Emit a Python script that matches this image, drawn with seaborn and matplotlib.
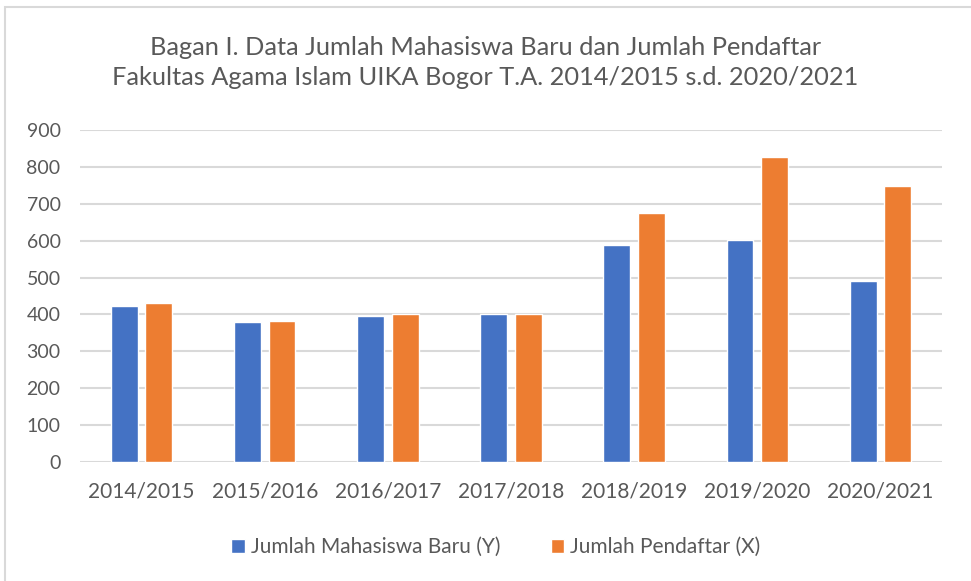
import matplotlib
matplotlib.use("Agg")
import matplotlib.pyplot as plt
import seaborn as sns
import pandas as pd
from matplotlib.patches import Rectangle

# Data
tahun = ['2014/2015', '2015/2016', '2016/2017', '2017/2018', '2018/2019', '2019/2020', '2020/2021']
mahasiswa_baru = [424, 379, 395, 400, 588, 601, 490]
pendaftar = [430, 383, 400, 402, 676, 826, 748]
seri = ['Jumlah Mahasiswa Baru (Y)', 'Jumlah Pendaftar (X)']
warna = ['#4472C4', '#ED7D31']

df = pd.DataFrame({
    'Tahun': tahun * 2,
    'Jumlah': mahasiswa_baru + pendaftar,
    'Seri': [seri[0]] * len(tahun) + [seri[1]] * len(tahun),
})

sns.set_style('white')
plt.rcParams['font.family'] = ['Lato', 'DejaVu Sans']

fig = plt.figure(figsize=(9.71, 5.81), dpi=100)
ax = fig.add_axes([80 / 971, 1 - 462 / 581, 862 / 971, 332 / 581])

sns.barplot(data=df, x='Tahun', y='Jumlah', hue='Seri', palette=warna,
            width=0.56, gap=0.22, ax=ax, saturation=1)

ax.set_ylim(0, 900)
ax.set_yticks(range(0, 901, 100))
ax.set_xlim(-0.5, len(tahun) - 0.5)
ax.yaxis.grid(True, color='#D9D9D9', linewidth=1.5)
ax.set_axisbelow(True)
for s in ax.spines.values():
    s.set_visible(False)
ax.tick_params(axis='both', length=0, colors='#595959')
ax.tick_params(axis='x', pad=14, labelsize=15)
ax.tick_params(axis='y', pad=14, labelsize=14)
ax.set_xlabel('')
ax.set_ylabel('')

fig.suptitle('Bagan I. Data Jumlah Mahasiswa Baru dan Jumlah Pendaftar\n'
             'Fakultas Agama Islam UIKA Bogor T.A. 2014/2015 s.d. 2020/2021',
             y=1 - 36 / 581, fontsize=18.3, color='#595959', linespacing=1.35)

ax.legend(loc='center', bbox_to_anchor=((496 - 80) / 862, (1 - 547 / 581 - (1 - 462 / 581)) / (332 / 581)),
          ncol=2, frameon=False, fontsize=15, handlelength=0.65, handleheight=0.65,
          handletextpad=0.3, columnspacing=2.4, labelcolor='#595959')

# chart border
fig.patches.append(Rectangle((5 / 971, -0.1), 1.2, 1 - 7 / 581 + 0.1, transform=fig.transFigure,
                             fill=False, edgecolor='#D9D9D9', linewidth=1.5))

fig.savefig('out.png', dpi=100)
print("Grafik selesai")
